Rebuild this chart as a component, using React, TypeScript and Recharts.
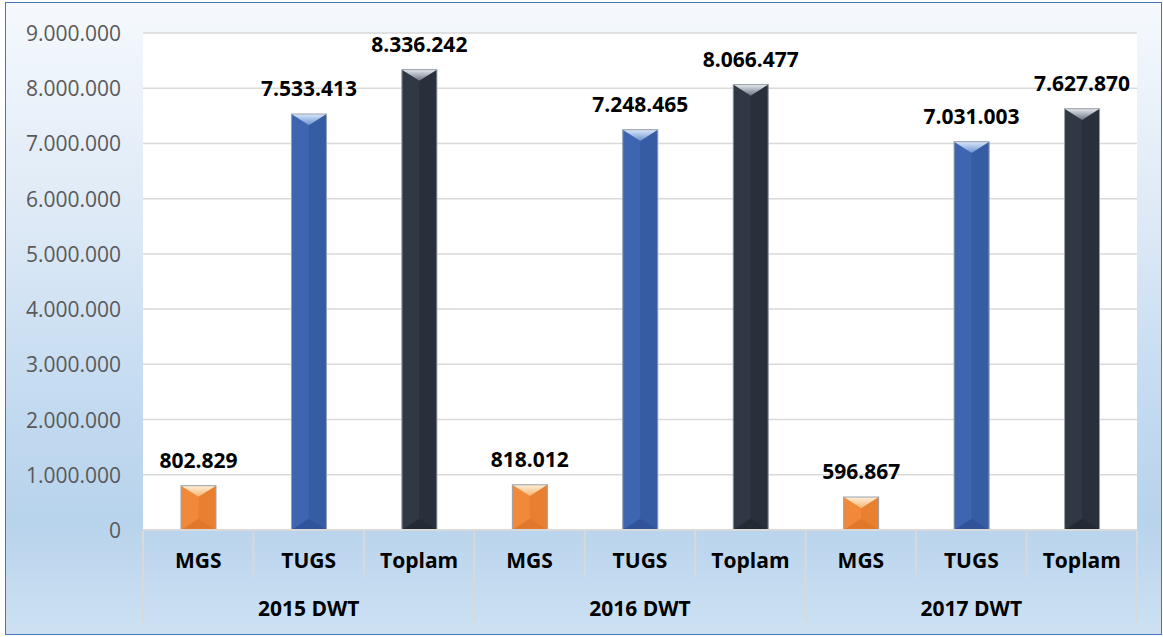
import React from 'react';
import { BarChart, Bar, XAxis, YAxis, CartesianGrid, LabelList } from 'recharts';

const groups = ['2015 DWT', '2016 DWT', '2017 DWT'];
const seriesNames = ['MGS', 'TUGS', 'Toplam'];
const mgsValues = [802829, 818012, 596867];
const tugsValues = [7533413, 7248465, 7031003];
const toplamValues = [8336242, 8066477, 7627870];
const yTicks = [0, 1000000, 2000000, 3000000, 4000000, 5000000, 6000000, 7000000, 8000000, 9000000];

const seriesValues = [mgsValues, tugsValues, toplamValues];

const data = groups.flatMap((g, gi) =>
  seriesNames.map((s, si) => ({
    key: `${g}-${s}`,
    cat: s,
    group: g,
    value: seriesValues[si][gi],
    s: si,
  }))
);

const palettes = [
  { face: '#ee8636', left: '#f08a3a', right: '#e98030', bottom: '#e0782c', top1: '#fff0d8', top2: '#f6b470' },
  { face: '#3a60aa', left: '#3e65b0', right: '#365ca3', bottom: '#30539a', top1: '#dbe8fa', top2: '#6a90d0' },
  { face: '#2c333f', left: '#313845', right: '#29303b', bottom: '#242a34', top1: '#e6eaf0', top2: '#6b7380' },
];

const FONT = '"Open Sans", "Liberation Sans", sans-serif';
const W = 1163;
const H = 637;
const M = { top: 33, right: 26, left: 0, bottom: 0 };
const Y_W = 143;
const X_H = 107;
const BAND = (W - M.right - Y_W) / data.length;

const fmt = (v: number) => String(v).replace(/\B(?=(\d{3})+(?!\d))/g, '.');

function BevelBar(props: any) {
  const { x, y, width: w, height: h, payload } = props;
  if (!w || !h) return null;
  const c = palettes[payload.s];
  const d = Math.min(w * 0.32, h / 2);
  const cx = x + w / 2;
  return (
    <g>
      <rect x={x} y={y} width={w} height={h} fill={c.face} />
      <polygon points={`${x},${y} ${cx},${y + d} ${cx},${y + h - d} ${x},${y + h}`} fill={c.left} />
      <polygon points={`${x + w},${y} ${cx},${y + d} ${cx},${y + h - d} ${x + w},${y + h}`} fill={c.right} />
      <polygon points={`${x},${y + h} ${x + w},${y + h} ${cx},${y + h - d}`} fill={c.bottom} />
      <polygon points={`${x},${y} ${x + w},${y} ${cx},${y + d}`} fill={`url(#topGrad${payload.s})`} />
      <rect x={x} y={y} width={w} height={h} fill="none" stroke="#9aa3ae" strokeWidth={1} />
    </g>
  );
}

function ValueLabel(props: any) {
  const { x, y, width, value } = props;
  return (
    <text
      x={x + width / 2}
      y={y - 26}
      textAnchor="middle"
      dominantBaseline="central"
      fontFamily={FONT}
      fontWeight={700}
      fontSize={21}
      fill="#000"
    >
      {fmt(value)}
    </text>
  );
}

function CatTick(props: any) {
  const { x, y, payload } = props;
  const i = payload.index;
  const d = data[i];
  const left = x - BAND / 2;
  const groupStart = i % 3 === 0;
  return (
    <g>
      <line x1={left} x2={left} y1={y} y2={y + (groupStart ? 93 : 47)} stroke="#d9d9d9" strokeWidth={2} />
      {i === data.length - 1 && (
        <line x1={x + BAND / 2} x2={x + BAND / 2} y1={y} y2={y + 93} stroke="#d9d9d9" strokeWidth={2} />
      )}
      <text x={x} y={y + 30} textAnchor="middle" dominantBaseline="central" fontFamily={FONT} fontWeight={700} fontSize={21} fill="#000">
        {d.cat}
      </text>
      {i % 3 === 1 && (
        <text x={x} y={y + 78} textAnchor="middle" dominantBaseline="central" fontFamily={FONT} fontWeight={700} fontSize={21} fill="#000">
          {d.group}
        </text>
      )}
    </g>
  );
}

function ValTick(props: any) {
  const { y, payload } = props;
  return (
    <text x={Y_W - 22} y={y} textAnchor="end" dominantBaseline="central" fontFamily={FONT} fontSize={21} fill="#595959">
      {fmt(payload.value)}
    </text>
  );
}

export default function App() {
  return (
    <div style={{ position: 'absolute', left: 0, top: 0, width: W, height: H, overflow: 'hidden' }}>
      <div
        style={{
          position: 'absolute',
          left: 5,
          top: 2,
          width: W - 6,
          height: H - 4,
          boxSizing: 'border-box',
          border: '1.5px solid #4a74b8',
          background: 'linear-gradient(to bottom, #f5f9fd 0%, #dde9f6 35%, #c4dbf1 62%, #b8d3ec 82%, #cde1f3 100%)',
        }}
      />
      <div style={{ position: 'absolute', left: 0, top: 0 }}>
        <BarChart width={W} height={H} data={data} margin={M} barSize={35}>
          <defs>
            {palettes.map((p, i) => (
              <linearGradient key={i} id={`topGrad${i}`} x1="0" y1="0" x2="0" y2="1">
                <stop offset="0%" stopColor={p.top1} />
                <stop offset="100%" stopColor={p.top2} />
              </linearGradient>
            ))}
          </defs>
          <CartesianGrid vertical={false} fill="#ffffff" stroke="#d9d9d9" strokeWidth={1.5} />
          <XAxis
            dataKey="key"
            height={X_H}
            interval={0}
            tickLine={false}
            tickSize={0}
            tickMargin={0}
            axisLine={{ stroke: '#d9d9d9', strokeWidth: 2 }}
            tick={<CatTick />}
          />
          <YAxis
            width={Y_W}
            domain={[0, 9000000]}
            ticks={yTicks}
            interval={0}
            axisLine={false}
            tickLine={false}
            tick={<ValTick />}
          />
          <Bar dataKey="value" shape={<BevelBar />} isAnimationActive={false}>
            <LabelList dataKey="value" content={<ValueLabel />} />
          </Bar>
        </BarChart>
      </div>
    </div>
  );
}
